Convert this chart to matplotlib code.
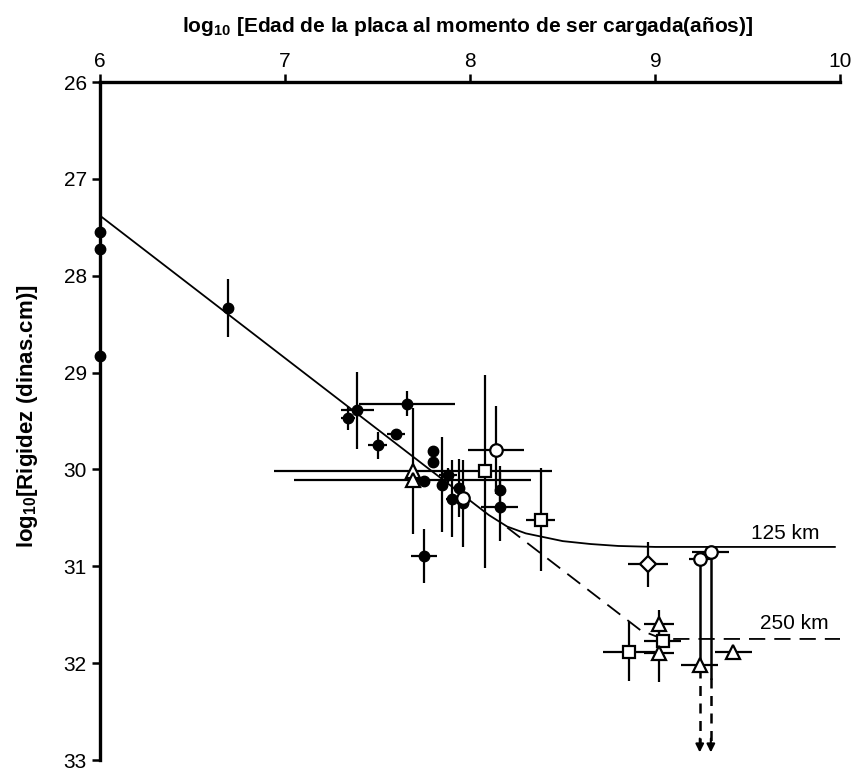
import numpy as np
import matplotlib.pyplot as plt

# %% Datos leídos de la figura
# puntos negros (x, y, error en x, error en y)
x_neg = [6.0, 6.0, 6.0, 6.69, 7.34, 7.39, 7.66, 7.60, 7.50, 7.80, 7.80, 7.75,
         7.88, 7.85, 7.94, 7.90, 7.96, 8.16, 8.16, 7.75]
y_neg = [27.55, 27.72, 28.83, 28.33, 29.47, 29.39, 29.32, 29.63, 29.75, 29.81,
         29.92, 30.12, 30.06, 30.16, 30.19, 30.30, 30.35, 30.21, 30.39, 30.89]
ex_neg = [0, 0, 0, 0, 0.04, 0.09, 0.26, 0.05, 0.05, 0.03, 0.03, 0.03,
          0.05, 0.03, 0.03, 0.03, 0.03, 0, 0.10, 0.07]
ey_neg = [0, 0, 0, 0.30, 0.12, 0.40, 0.13, 0.05, 0.14, 0.05, 0.05, 0,
          0.08, 0.49, 0.30, 0.40, 0.45, 0.25, 0.35, 0.28]

# círculos abiertos
x_circ = [8.14, 7.96, 9.24, 9.30]
y_circ = [29.80, 30.29, 30.92, 30.85]
ex_circ = [0.15, 0, 0.06, 0.10]
ey_circ = [0.45, 0, 0, 0]

# cuadrados abiertos
x_cuad = [8.08, 8.38, 8.86, 9.04]
y_cuad = [30.02, 30.52, 31.88, 31.77]
ex_cuad = [0, 0.08, 0.14, 0.10]
ey_cuad = [1.00, 0.53, 0.30, 0]

# triángulos abiertos
x_tri = [7.69, 7.69, 9.02, 9.02, 9.42, 9.24]
y_tri = [30.02, 30.11, 31.60, 31.89, 31.88, 32.02]
ex_tri = [0.75, 0.64, 0.08, 0.08, 0.10, 0.10]
ey_tri = [0.65, 0, 0.15, 0.30, 0, 0]

# rombo abierto
x_rom = [8.96]
y_rom = [30.98]
ex_rom = [0.11]
ey_rom = [0.23]

# flechas (límites) desde los círculos de la derecha
x_flecha = [9.24, 9.30]
y_flecha_ini = [30.92, 30.85]
y_flecha_quiebre = [32.05, 32.15]
y_flecha_fin = [32.95, 32.95]

# curvas del modelo
x_125 = [6.0, 8.1, 8.2, 8.3, 8.4, 8.5, 8.65, 8.8, 9.0, 9.97]
y_125 = [27.38, 30.47, 30.59, 30.66, 30.70, 30.74, 30.77, 30.79, 30.80, 30.80]
x_250 = [8.2, 8.92, 9.0, 9.1, 10.0]
y_250 = [30.60, 31.66, 31.72, 31.75, 31.75]

xticks = [6, 7, 8, 9, 10]
yticks = [26, 27, 28, 29, 30, 31, 32, 33]

# %% Gráfico
plt.rcParams['font.family'] = ['Liberation Sans', 'DejaVu Sans']
plt.rcParams['mathtext.fontset'] = 'custom'
plt.rcParams['mathtext.rm'] = 'Liberation Sans:bold'
plt.rcParams['mathtext.bf'] = 'Liberation Sans:bold'

fig = plt.figure(figsize=(8.52, 7.76), dpi=100)
ax = fig.add_axes([0.1174, 0.0206, 0.869, 0.8737])

ax.plot(x_125, y_125, color='k', lw=1.3)
ax.plot(x_250, y_250, color='k', lw=1.3, ls=(0, (9, 5)))

eb = dict(fmt='none', ecolor='k', elinewidth=1.6, capsize=0, zorder=2)
ax.errorbar(x_neg, y_neg, xerr=ex_neg, yerr=ey_neg, **eb)
ax.errorbar(x_circ, y_circ, xerr=ex_circ, yerr=ey_circ, **eb)
ax.errorbar(x_cuad, y_cuad, xerr=ex_cuad, yerr=ey_cuad, **eb)
ax.errorbar(x_tri, y_tri, xerr=ex_tri, yerr=ey_tri, **eb)
ax.errorbar(x_rom, y_rom, xerr=ex_rom, yerr=ey_rom, **eb)

for xf, y0, y1, y2 in zip(x_flecha, y_flecha_ini, y_flecha_quiebre, y_flecha_fin):
    ax.plot([xf, xf], [y0, y1], color='k', lw=1.8, zorder=2)
    ax.plot([xf, xf], [y1, y2 - 0.1], color='k', lw=1.8, ls=(0, (4, 3)), zorder=2)
    ax.annotate('', xy=(xf, y2), xytext=(xf, y2 - 0.2),
                arrowprops=dict(arrowstyle='-|>', color='k', lw=1.5,
                                mutation_scale=12))

ax.plot(x_neg, y_neg, 'o', color='k', ms=7.5, zorder=4, clip_on=False)
mk = dict(mfc='white', mec='k', mew=1.6, ls='none', zorder=4)
ax.plot(x_circ, y_circ, 'o', ms=9, **mk)
ax.plot(x_cuad, y_cuad, 's', ms=9, **mk)
ax.plot(x_tri, y_tri, '^', ms=10, **mk)
ax.plot(x_rom, y_rom, 'D', ms=8, **mk)

ax.text(9.7, 30.66, '125 km', ha='center', va='center', fontsize=15)
ax.text(9.75, 31.59, '250 km', ha='center', va='center', fontsize=15)

# ejes
ax.set_xlim(6, 10)
ax.set_ylim(33, 26)
ax.xaxis.tick_top()
ax.xaxis.set_label_position('top')
ax.set_xticks(xticks)
ax.set_yticks(yticks)
ax.tick_params(axis='both', direction='out', length=6, width=1.8, labelsize=15)
ax.tick_params(axis='x', pad=2)
for s in ['right', 'bottom']:
    ax.spines[s].set_visible(False)
for s in ['left', 'top']:
    ax.spines[s].set_linewidth(2.4)

ax.set_xlabel(r'log$_{\mathbf{10}}$ [Edad de la placa al momento de ser cargada(años)]',
              fontsize=15, fontweight='bold')
ax.xaxis.set_label_coords(0.497, 1.074)
ax.set_ylabel(r'log$_{\mathbf{10}}$[Rigidez (dinas.cm)]',
              fontsize=16, fontweight='bold')
ax.yaxis.set_label_coords(-0.081, 0.507)

plt.savefig('out.png', dpi=100)
